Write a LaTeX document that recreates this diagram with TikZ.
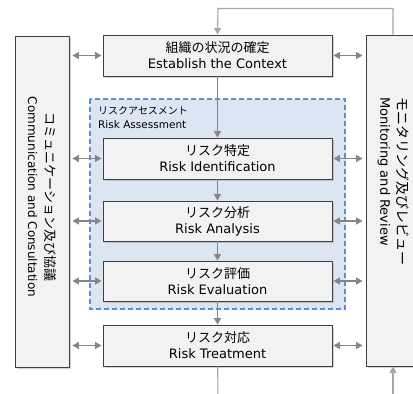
\documentclass[tikz,border=0pt]{standalone}
\usepackage{fontspec}
\setmainfont{DejaVu Sans}
\newfontfamily\jp{Noto Sans CJK JP}
\usetikzlibrary{arrows.meta,shadows}
\definecolor{boxfill}{HTML}{F2F2F2}
\definecolor{boxline}{HTML}{404040}
\definecolor{arrowgray}{HTML}{858585}
\definecolor{loopgray}{HTML}{A6A6A6}
\definecolor{areafill}{HTML}{DCE6F2}
\definecolor{arealine}{HTML}{5B8ECF}
\begin{document}
\begin{tikzpicture}[x=1pt,y=-1pt,
        stage/.style={draw=boxline,fill=boxfill,line width=0.9pt,minimum width=229pt,
            align=center,inner sep=0pt,font=\fontsize{13}{16}\selectfont,
            drop shadow={shadow xshift=1.5pt,shadow yshift=-1.5pt,opacity=0.35}},
        side/.style={draw=boxline,fill=boxfill,line width=0.9pt,minimum width=54pt,minimum height=331pt,
            drop shadow={shadow xshift=1.5pt,shadow yshift=-1.5pt,opacity=0.35}},
        flow/.style={draw=arrowgray,line width=1.3pt,-{Triangle[length=6.5pt,width=7pt]}},
        back/.style={draw=loopgray,line width=1.1pt,-{Triangle[length=6.5pt,width=7pt]}},
        talk/.style={draw=arrowgray,line width=1.2pt,{Triangle[length=6.5pt,width=7pt]}-{Triangle[length=6.5pt,width=7pt]}}]
    \clip (0,0) rectangle (413,394);
    \fill[white] (0,0) rectangle (413,394);
    % risk assessment area
    \draw[areafill,fill=areafill] (90,99) rectangle (345,309);
    \draw[arealine,line width=1.3pt,dash pattern=on 5pt off 3pt] (90,99) rectangle (345,309);
    \node[anchor=north west,align=left,inner sep=0pt,font=\fontsize{10.5}{14}\selectfont] (assess) at (98,106) {{\jp\fontsize{10}{14}\selectfont リスクアセスメント}\\Risk Assessment};
    \node[stage,minimum height=41pt] (ctx) at (217.5,55.5) {{\jp 組織の状況の確定}\\Establish the Context};
    \node[stage,minimum height=41pt] (ident) at (217.5,158.5) {{\jp リスク特定}\\Risk Identification};
    \node[stage,minimum height=40pt] (anal) at (217.5,221) {{\jp リスク分析}\\Risk Analysis};
    \node[stage,minimum height=40pt] (eval) at (217.5,281) {{\jp リスク評価}\\Risk Evaluation};
    \node[stage,minimum height=41pt] (treat) at (217.5,345.5) {{\jp リスク対応}\\Risk Treatment};
    \node[side] (comm) at (42,201.5) {};
    \node[side] (mon) at (393,200.5) {};
    \node[rotate=-90,align=center,font=\fontsize{12}{17}\selectfont] (commtxt) at (42,197) {{\jp\fontsize{13}{17}\selectfont コミュニケーション及び協議}\\Communication and Consultation};
    \node[rotate=-90,anchor=west,align=left,inner sep=0pt,font=\fontsize{13}{17}\selectfont] (montxt) at (393.5,97) {{\jp\fontsize{14}{17}\selectfont モニタリング及びレビュー}\\Monitoring and Review};
    \coordinate (loop) at (218,8.5);
    \coordinate (out) at (218,400);
    \coordinate (in) at (393,400);
    \draw[back] (mon.north) |- (loop) -- (ctx.north);
    \draw[flow] (ctx) -- (ident);
    \draw[flow] (ident) -- (anal);
    \draw[flow] (anal) -- (eval);
    \draw[flow] (eval) -- (treat);
    \draw[draw=loopgray,line width=1.1pt] (treat) -- (out);
    \draw[back] (in) -- (mon);
    \foreach \s in {ctx,ident,anal,eval,treat}{
        \draw[talk,shorten <=3pt,shorten >=1pt] (comm.east |- \s) -- (\s.west);
        \draw[talk,shorten <=1pt,shorten >=3pt] (\s.east) -- (mon.west |- \s);
    }
\end{tikzpicture}
\end{document}
